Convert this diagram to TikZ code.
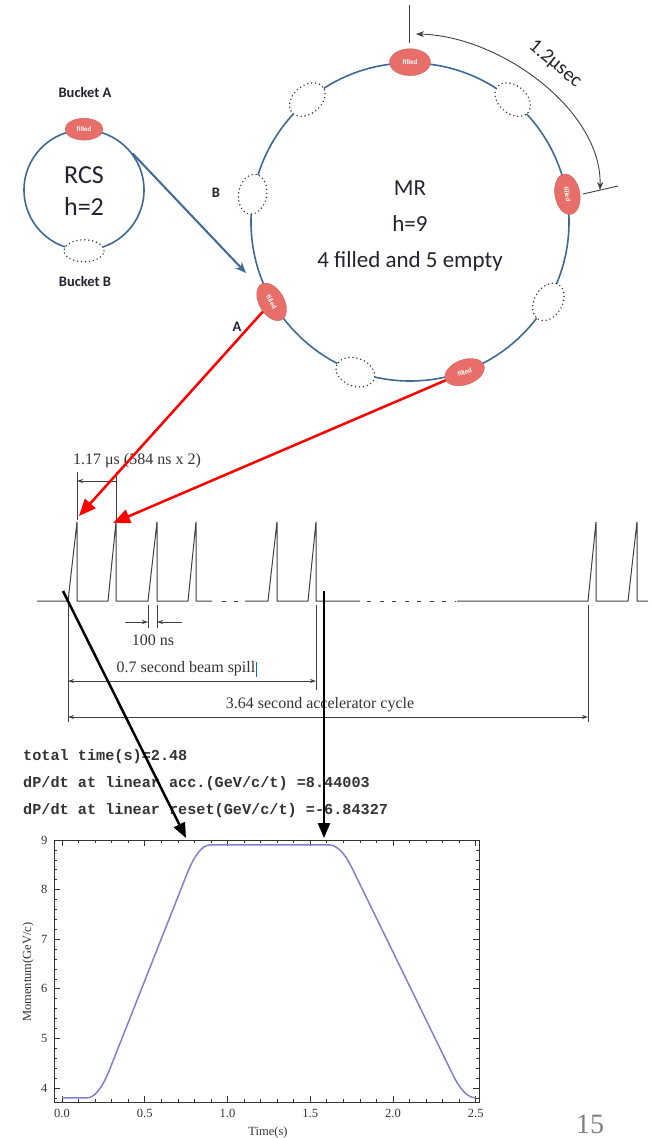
\documentclass[tikz,border=0pt]{standalone}
\usepackage{fontspec}
\setmainfont{Liberation Serif}
\newfontfamily\calib{Carlito}
\newfontfamily\monob{Liberation Mono}
\usetikzlibrary{shapes.geometric,arrows.meta}
\definecolor{ringc}{RGB}{62,104,150}
\definecolor{fillred}{RGB}{232,110,106}
\definecolor{curvec}{RGB}{128,128,205}
\definecolor{txtc}{RGB}{35,35,50}
\tikzset{
 ring/.style={circle,draw=ringc,line width=1.6pt,inner sep=0pt},
 fullb/.style={ellipse,fill=fillred,draw=fillred!85!black,line width=0.3pt,minimum width=41pt,minimum height=25pt,inner sep=0pt,text=white,font=\calib\bfseries\fontsize{7}{8}\selectfont},
 emptyb/.style={ellipse,fill=white,draw=black!80,line width=1.6pt,dash pattern=on 0pt off 4pt,line cap=round,minimum width=40pt,minimum height=28pt,inner sep=0pt},
 lbl/.style={font=\calib\bfseries\fontsize{14.5}{16}\selectfont,text=txtc},
 big/.style={font=\calib\fontsize{23}{36}\selectfont,text=txtc,align=center},
 pulse/.style={draw=black!75,line width=1pt},
 dim/.style={draw=black!75,line width=0.8pt},
 dimtip/.style={-{Stealth[length=6pt,width=4pt]}},
 dimboth/.style={{Stealth[length=6pt,width=4pt]}-{Stealth[length=6pt,width=4pt]}},
 ser/.style={font=\fontsize{16}{18}\selectfont,text=black!80},
 redarr/.style={draw=red,line width=2.5pt,-{Triangle[length=17pt,width=14pt]}},
 blkarr/.style={draw=black,line width=2.5pt,-{Triangle[length=15pt,width=12pt]}},
 mono/.style={font=\monob\bfseries\fontsize{15.2}{17}\selectfont,text=black!80,anchor=west,inner sep=0pt},
 tk/.style={draw=black!80,line width=0.7pt},
 plab/.style={font=\fontsize{12.5}{14}\selectfont,text=black!80},
}
\begin{document}
\begin{tikzpicture}[x=1pt,y=-1pt]
\useasboundingbox (0,0) rectangle (652,1138);

% ---------------- RCS ring
\node[ring,minimum size=120pt] (rcs) at (84,190) {};
\node[fullb,minimum width=38pt,minimum height=22pt] (ra) at (rcs.90) {filled};
\node[emptyb,minimum height=22pt] (rb) at (rcs.270) {};
\node[lbl] (lba) at (85,92) {Bucket A};
\node[lbl] (lbb) at (85,281) {Bucket B};
\node[font=\calib\fontsize{26}{32}\selectfont,text=txtc,align=center] (rcst) at (84,191) {RCS\\h=2};

% ---------------- MR ring
\node[ring,minimum size=318pt] (mr) at (410,222) {};
\node[fullb,rotate=-80] (m10) at (mr.10) {filled};
\node[fullb,minimum height=27pt] (m90) at (mr.90) {filled};
\node[fullb,rotate=-60] (m210) at (mr.210) {filled};
\node[fullb,rotate=20] (m290) at (mr.290) {filled};
\foreach \a in {50,130,170,250,330}
  \node[emptyb,rotate=\a-90] (m\a) at (mr.\a) {};
\node[big] (mrt) at (410,226) {MR\\h=9\\4 filled and 5 empty};
\node[lbl] (lB) at (216,193) {B};
\node[lbl] (lA) at (237,327) {A};

% injection arrow
\coordinate (binj) at (246,273);
\draw[ringc,line width=2pt,-{Stealth[length=11pt,width=9pt]}] (rcs.37) -- (binj);

% 1.2 usec marker
\coordinate (v1) at (409,5);
\coordinate (v2) at (409,43);
\coordinate (a1) at (416,34);
\coordinate (a2) at (600,190);
\coordinate (r1) at (583,194);
\coordinate (r2) at (618,186);
\draw[dim,line width=0.9pt] (v1) -- (v2);
\draw[dim,line width=0.9pt] (r1) -- (r2);
\draw[dim,line width=0.9pt,{Stealth[length=8pt,width=6pt]}-{Stealth[length=8pt,width=6pt]}] (a1) .. controls (500,36) and (602,110) .. (a2);
\node[font=\calib\fontsize{20}{22}\selectfont,text=txtc,rotate=-40] (usec) at (555,64) {1.2μsec};

% ---------------- pulse train
\draw[pulse] (37,601) -- (68,601) -- (77,522) -- (77,601) -- (108,601) -- (116,522) -- (116,601)
  -- (148,601) -- (157,522) -- (157,601) -- (188,601) -- (196,522) -- (196,601) -- (212,601);
\draw[pulse] (222,601) -- (226,601);
\draw[pulse] (234,601) -- (238,601);
\draw[pulse] (245,601) -- (268,601) -- (277,522) -- (277,601) -- (308,601) -- (316,522) -- (316,601) -- (360,601);
\draw[pulse,dash pattern=on 4pt off 8.5pt] (367,601) -- (455,601);
\draw[pulse] (457,601) -- (588,601) -- (596,522) -- (596,601) -- (628,601) -- (637,522) -- (637,601) -- (648,601);

% 1.17 us dimension
\coordinate (d1a) at (77,472); \coordinate (d1b) at (77,520);
\coordinate (d2a) at (116,472); \coordinate (d2b) at (116,520);
\coordinate (h1) at (116,481); \coordinate (h2) at (77,481);
\draw[dim] (d1a) -- (d1b);
\draw[dim] (d2a) -- (d2b);
\draw[dim,dimtip] (h1) -- (h2);
\node[ser] (t117) at (137,461) {1.17 μs (584 ns x 2)};

% 100 ns dimension
\coordinate (n1a) at (148,605); \coordinate (n1b) at (148,628);
\coordinate (n2a) at (157,605); \coordinate (n2b) at (157,628);
\coordinate (n3) at (125,622); \coordinate (n4) at (148,622);
\coordinate (n5) at (182,622); \coordinate (n6) at (157,622);
\draw[dim] (n1a) -- (n1b);
\draw[dim] (n2a) -- (n2b);
\draw[dim,dimtip] (n3) -- (n4);
\draw[dim,dimtip] (n5) -- (n6);
\node[ser] (t100) at (153,640) {100 ns};

% spill and cycle dimensions
\coordinate (s1a) at (68,605); \coordinate (s1b) at (68,722);
\coordinate (s2a) at (316,605); \coordinate (s2b) at (316,690);
\coordinate (s3a) at (588,605); \coordinate (s3b) at (588,722);
\coordinate (sp1) at (68,681); \coordinate (sp2) at (316,681);
\coordinate (cy1) at (68,717); \coordinate (cy2) at (588,717);
\draw[dim] (s1a) -- (s1b);
\draw[dim] (s2a) -- (s2b);
\draw[dim] (s3a) -- (s3b);
\draw[dim,dimboth] (sp1) -- (sp2);
\draw[dim,dimboth] (cy1) -- (cy2);
\node[ser] (tsp) at (186,669) {0.7 second beam spill};
\coordinate (cur1) at (256,662); \coordinate (cur2) at (256,677);
\draw[blue!60!cyan,line width=0.8pt] (cur1) -- (cur2);
\node[ser] (tcy) at (320,705) {3.64 second accelerator cycle};

% red arrows
\coordinate (pk1) at (79,516);
\coordinate (pk2) at (113,523);
\draw[redarr] (m210) -- (pk1);
\draw[redarr] (m290) -- (pk2);

% ---------------- text output
\node[mono] (o1) at (23,757) {total time(s)=2.48};
\node[mono] (o2) at (23,784) {dP/dt at linear acc.(GeV/c/t) =8.44003};
\node[mono] (o3) at (23,811) {dP/dt at linear reset(GeV/c/t) =-6.84327};

% ---------------- plot
\draw[tk,line width=1pt] (54,840) rectangle (479,1102);
\foreach \i in {0,...,26} {
  \draw[tk] (54,{1097.92-9.92*\i}) -- ++(3,0);
  \draw[tk] (479,{1097.92-9.92*\i}) -- ++(-3,0);
}
\foreach \v in {0,...,5} {
  \draw[tk] (54,{1088-49.6*\v}) -- ++(6,0);
  \draw[tk] (479,{1088-49.6*\v}) -- ++(-6,0);
}
\foreach \i in {0,...,25} {
  \draw[tk] ({62+16.55*\i},1102) -- ++(0,-3);
  \draw[tk] ({62+16.55*\i},840) -- ++(0,3);
}
\foreach \i in {0,...,5} {
  \draw[tk] ({62+82.75*\i},1102) -- ++(0,-6);
  \draw[tk] ({62+82.75*\i},840) -- ++(0,6);
}
\foreach \i/\l in {0/0.0,1/0.5,2/1.0,3/1.5,4/2.0,5/2.5}
  \node[plab] (xl\i) at ({62+82.75*\i},1113) {\l};
\foreach \v in {4,...,9}
  \node[plab,anchor=east] (yl\v) at (51,{1088-49.6*(\v-4)}) {\v};
\node[plab] (xt) at (268,1132) {Time(s)};
\node[plab,rotate=90] (yt) at (28,972) {Momentum(GeV/c)};
\begin{scope}[shift={(62,1088)},x=165.5pt,y=49.6pt]
\draw[curvec,line width=1.5pt] (0,-0.2) -- (0.15,-0.2) .. controls (0.1967,-0.2) and (0.2433,-0.0031) .. (0.29,0.3908)
  -- (0.7543,4.3092) .. controls (0.8010,4.7031) and (0.8476,4.9) .. (0.8943,4.9)
  -- (1.6144,4.9) .. controls (1.6611,4.9) and (1.7077,4.7404) .. (1.7544,4.4212)
  -- (2.36,0.2788) .. controls (2.4067,-0.0404) and (2.4533,-0.2) .. (2.50,-0.2);
\end{scope}

% black arrows
\coordinate (b1s) at (63,591); \coordinate (b1e) at (186,838);
\coordinate (b2s) at (324,591); \coordinate (b2e) at (324,838);
\draw[blkarr] (b1s) -- (b1e);
\draw[blkarr] (b2s) -- (b2e);

\node[font=\fontsize{28}{30}\selectfont,text=black!50] (pg) at (590,1124) {15};
\end{tikzpicture}
\end{document}
